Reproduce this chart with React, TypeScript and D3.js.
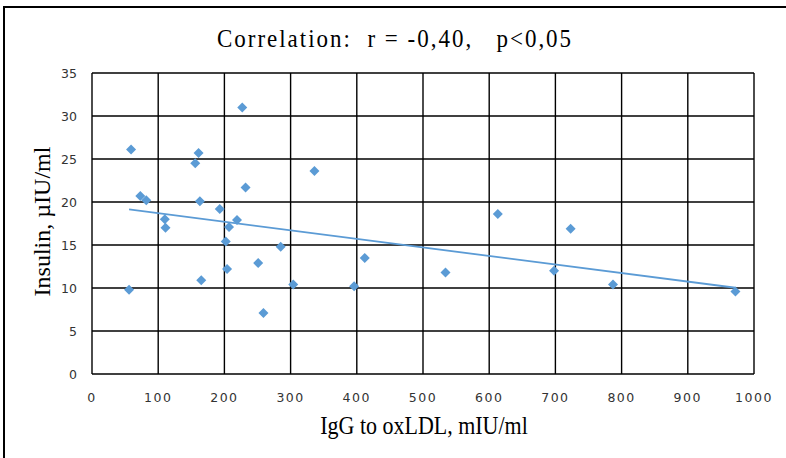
import React, { useRef, useEffect } from "react";
import * as d3 from "d3";

// IgG to oxLDL (mIU/ml) vs insulin (µIU/ml)
const igg = [59, 56, 73, 82, 110, 111, 156, 161, 163, 165, 193, 202, 204, 207, 219, 227, 232, 251, 259, 285, 304, 336, 396, 412, 534, 613, 698, 723, 787, 972];
const insulin = [26.1, 9.8, 20.7, 20.2, 18.0, 17.0, 24.5, 25.7, 20.1, 10.9, 19.2, 15.4, 12.2, 17.1, 17.9, 31.0, 21.7, 12.9, 7.1, 14.8, 10.4, 23.6, 10.2, 13.5, 11.8, 18.6, 12.0, 16.9, 10.4, 9.6];

const xTicks = [0, 100, 200, 300, 400, 500, 600, 700, 800, 900, 1000];
const yTicks = [0, 5, 10, 15, 20, 25, 30, 35];

const title = "Correlation:  r = -0,40,   p<0,05";
const xTitle = "IgG to oxLDL, mIU/ml";
const yTitle = "Insulin, \u00b5IU/ml";

const W = 786, H = 458;
const color = "#5B9BD5";

function App() {
    const svgRef = useRef(null);

    useEffect(() => {
        const svg = d3.select(svgRef.current);
        svg.selectAll("*").remove();

        const x = d3.scaleLinear().domain([0, 1000]).range([92, 754]);
        const y = d3.scaleLinear().domain([0, 35]).range([374, 73]);

        // chart frame: only top and left edges show
        svg.append("path")
            .attr("d", `M4,${H} L4,7 L${W},7`)
            .attr("fill", "none").attr("stroke", "#000").attr("stroke-width", 2);

        svg.append("text")
            .attr("transform", "translate(395,47) scale(1,1.08)")
            .attr("text-anchor", "middle")
            .attr("font-family", "Liberation Serif, serif")
            .attr("font-size", 23)
            .attr("letter-spacing", 2)
            .style("white-space", "pre")
            .text(title);

        // grid
        const grid = svg.append("g").attr("stroke", "#000").attr("stroke-width", 1.4);
        grid.selectAll(".vx").data(xTicks).join("line")
            .attr("x1", d => x(d)).attr("x2", d => x(d))
            .attr("y1", y(0)).attr("y2", y(35));
        grid.selectAll(".hy").data(yTicks).join("line")
            .attr("y1", d => y(d)).attr("y2", d => y(d))
            .attr("x1", x(0)).attr("x2", x(1000));

        svg.append("g").selectAll("text").data(yTicks).join("text")
            .attr("x", 77).attr("y", d => y(d) + 5)
            .attr("text-anchor", "end")
            .attr("font-family", "DejaVu Sans, Verdana, sans-serif")
            .attr("font-size", 12.5)
            .attr("fill", "#333")
            .text(d => d);

        svg.append("g").selectAll("text").data(xTicks).join("text")
            .attr("x", d => x(d)).attr("y", 402)
            .attr("text-anchor", "middle")
            .attr("font-family", "DejaVu Sans, Verdana, sans-serif")
            .attr("font-size", 12.5)
            .attr("letter-spacing", 1.5)
            .attr("fill", "#333")
            .text(d => d);

        svg.append("text")
            .attr("transform", "translate(424,434) scale(1,1.12)")
            .attr("text-anchor", "middle")
            .attr("font-family", "Liberation Serif, serif")
            .attr("font-size", 22)
            .text(xTitle);

        svg.append("text")
            .attr("transform", `translate(50,${y(17.5) - 2}) rotate(-90)`)
            .attr("text-anchor", "middle")
            .attr("font-family", "Liberation Serif, serif")
            .attr("font-size", 24)
            .text(yTitle);

        // linear trend line (least squares)
        const mx = d3.mean(igg), my = d3.mean(insulin);
        let sxy = 0, sxx = 0;
        igg.forEach((v, i) => { sxy += (v - mx) * (insulin[i] - my); sxx += (v - mx) * (v - mx); });
        const slope = sxy / sxx, icpt = my - slope * mx;
        const [x0, x1] = d3.extent(igg);
        svg.append("line")
            .attr("x1", x(x0)).attr("y1", y(icpt + slope * x0))
            .attr("x2", x(x1)).attr("y2", y(icpt + slope * x1))
            .attr("stroke", color).attr("stroke-width", 1.8);

        const r = 5;
        svg.append("g").selectAll("path").data(igg).join("path")
            .attr("d", (d, i) => {
                const cx = x(d), cy = y(insulin[i]);
                return `M${cx},${cy - r}L${cx + r},${cy}L${cx},${cy + r}L${cx - r},${cy}Z`;
            })
            .attr("fill", color);
    }, []);

    return (
        <svg ref={svgRef} width={W} height={H}
            style={{ position: "absolute", left: 0, top: 0, background: "#fff" }} />
    );
}

export default App;
